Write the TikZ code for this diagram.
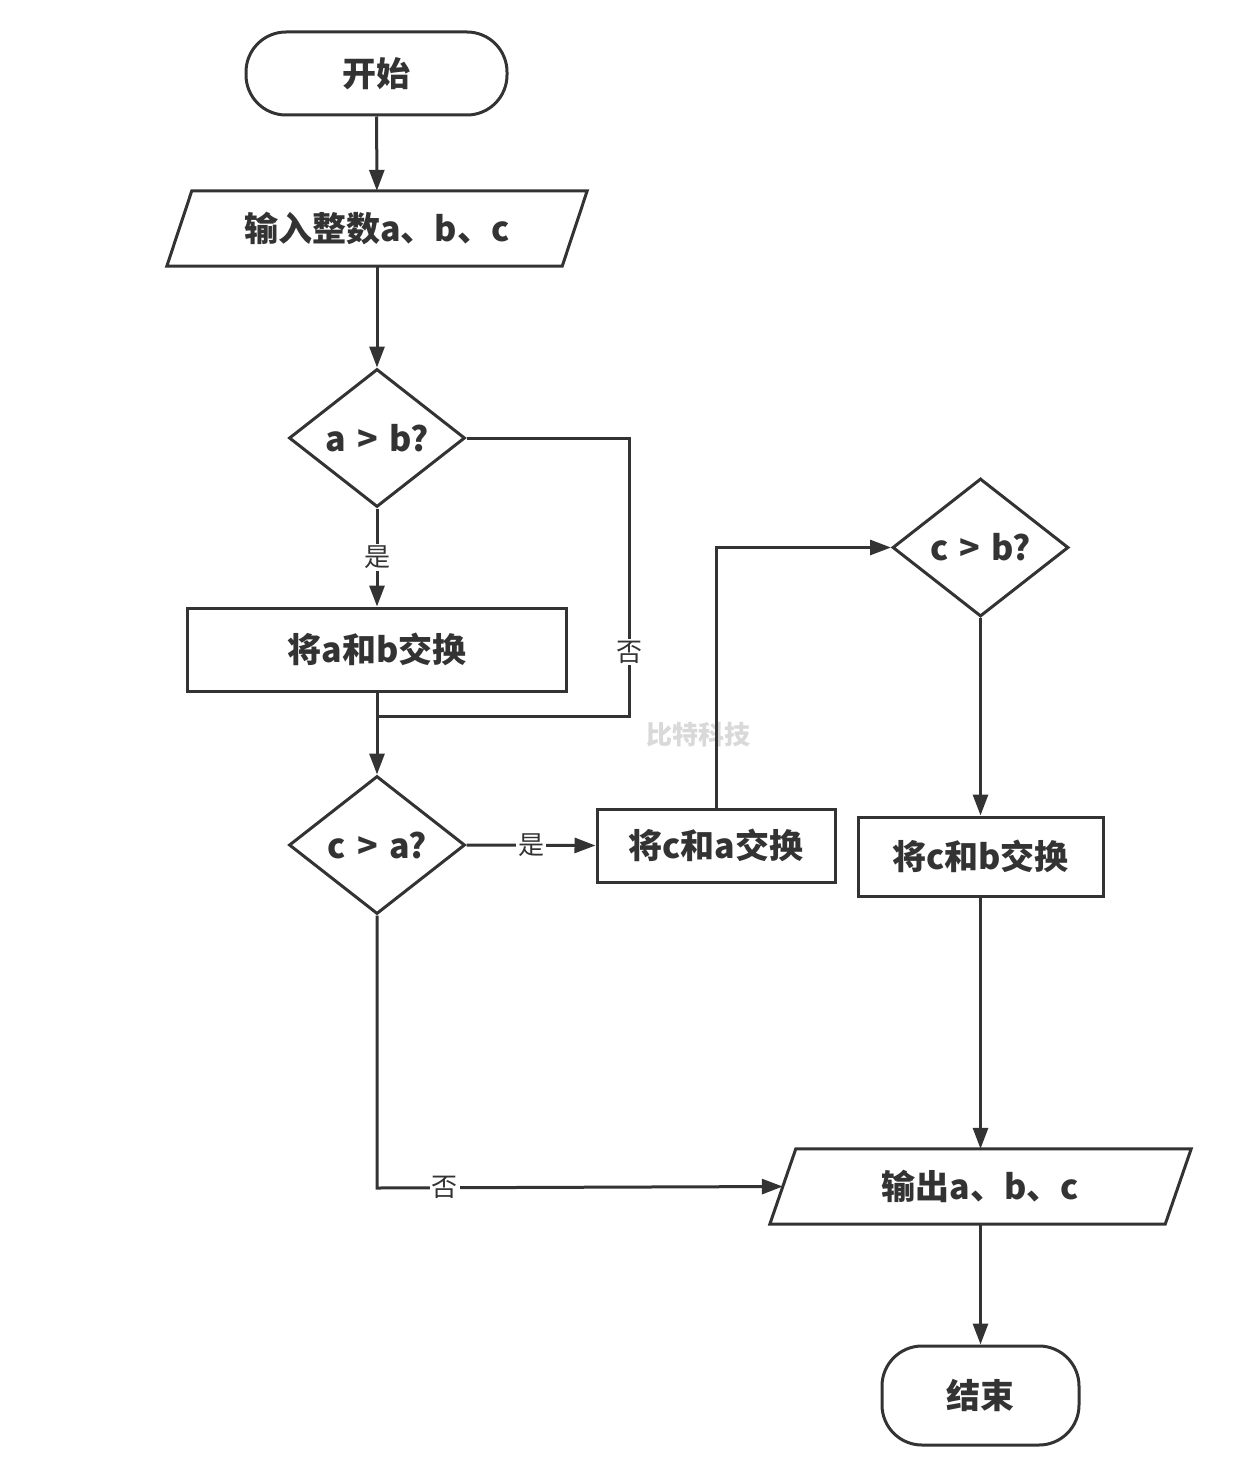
\documentclass[tikz,border=0pt]{standalone}
\usepackage{fontspec}
\newfontfamily\cjk{Noto Sans CJK SC}
\usetikzlibrary{shapes.geometric,arrows.meta}
\definecolor{ink}{HTML}{333333}
\begin{document}
\begin{tikzpicture}[x=1pt,y=-1pt,
  every node/.style={text=ink,font=\cjk\bfseries\fontsize{34}{40}\selectfont},
  base/.style={draw=ink,line width=3pt,inner sep=0pt},
  terminal/.style={base,rounded corners=40pt},
  procbox/.style={base,rectangle},
  iobox/.style={inner sep=0pt,minimum height=75pt},
  decision/.style={base,diamond,minimum width=176pt,minimum height=138pt},
  line/.style={draw=ink,line width=3pt},
  arrow/.style={line,-{Triangle[length=21pt,width=15pt]}},
  lbl/.style={fill=white,inner sep=2pt,font=\cjk\fontsize{26}{30}\selectfont}
]
\useasboundingbox (0,0) rectangle (1253,1469);

% nodes
\node[terminal,minimum width=261pt,minimum height=83pt] (start) at (376.5,73.5) {开始};
\node[iobox,minimum width=420pt] (in) at (377,228.5) {输入整数a、b、c};
\node[decision] (d1) at (377,438) {a\,\,>\,\,b?};
\node[procbox,minimum width=379pt,minimum height=83pt] (b1) at (377,649.5) {将a和b交换};
\node[decision] (d2) at (377,845) {c\,\,>\,\,a?};
\node[procbox,minimum width=238pt,minimum height=73pt] (b2) at (716,845.5) {将c和a交换};
\node[decision] (d3) at (980.5,547.5) {c\,\,>\,\,b?};
\node[procbox,minimum width=245pt,minimum height=79pt] (b3) at (980.5,856.5) {将c和b交换};
\node[iobox,minimum width=421pt] (out) at (980.5,1186.5) {输出a、b、c};
\node[terminal,minimum width=197pt,minimum height=99pt] (end) at (980.5,1395.5) {结束};
\node[text=gray!30,font=\cjk\bfseries\fontsize{26}{30}\selectfont] (wm) at (698,735) {比特科技};

% parallelogram outlines
\draw[line,line join=miter] ([xshift=25pt]in.north west) -- (in.north east)
  -- ([xshift=-25pt]in.south east) -- (in.south west) -- cycle;
\draw[line,line join=miter] ([xshift=26pt]out.north west) -- (out.north east)
  -- ([xshift=-26pt]out.south east) -- (out.south west) -- cycle;

% helper coordinates
\coordinate (n1) at (629,438);
\coordinate (n2) at (629,716);
\coordinate (j1) at (377,716);
\coordinate (outin) at ([xshift=13pt]out.west);
\coordinate (k1) at (377,1188);

% connectors
\draw[arrow] (start) -- (in);
\draw[arrow] (in) -- (d1);
\draw[arrow] (d1) -- node[lbl]{是} (b1);
\draw[line] (d1.east) -- (n1) -- node[lbl,pos=0.77]{否} (n2) -- (j1);
\draw[arrow] (b1) -- (d2);
\draw[arrow] (d2.east) -- node[lbl]{是} (b2.west);
\draw[arrow] (b2.north) |- (d3.west);
\draw[arrow] (d3) -- (b3);
\draw[arrow] (b3) -- (out);
\draw[arrow] (d2.south) -- (k1) -- node[lbl,pos=0.167]{否} (outin);
\draw[arrow] (out) -- (end);
\end{tikzpicture}
\end{document}
